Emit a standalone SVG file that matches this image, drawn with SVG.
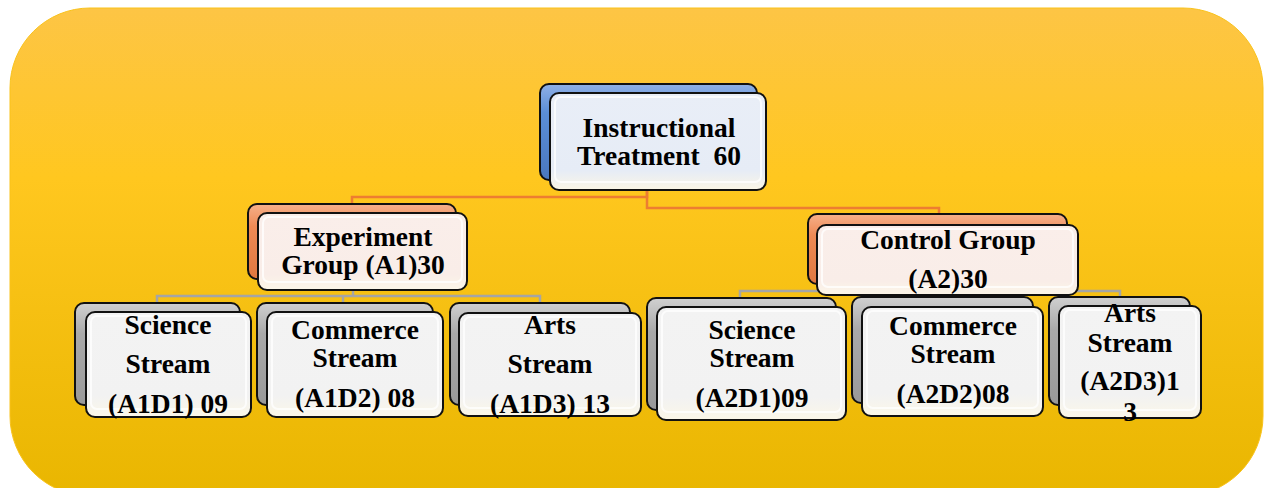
<svg xmlns="http://www.w3.org/2000/svg" width="1266" height="488" viewBox="0 0 1266 488">
<defs>
<linearGradient id="bg" x1="0" y1="0" x2="0" y2="1">
<stop offset="0" stop-color="#FDC545"/>
<stop offset="0.35" stop-color="#FFC71F"/>
<stop offset="1" stop-color="#E9B600"/>
</linearGradient>
<linearGradient id="gBlue" x1="0" y1="0" x2="0" y2="1">
<stop offset="0" stop-color="#8FB0E6"/>
<stop offset="0.3" stop-color="#5B8ED6"/>
<stop offset="1" stop-color="#4A78C0"/>
</linearGradient>
<linearGradient id="gOrange" x1="0" y1="0" x2="0" y2="1">
<stop offset="0" stop-color="#F6B08A"/>
<stop offset="0.3" stop-color="#EE8A55"/>
<stop offset="1" stop-color="#E07840"/>
</linearGradient>
<linearGradient id="gGray" x1="0" y1="0" x2="0" y2="1">
<stop offset="0" stop-color="#D0D0D0"/>
<stop offset="0.3" stop-color="#A9A9A9"/>
<stop offset="1" stop-color="#999999"/>
</linearGradient>
<linearGradient id="fBlue" x1="0" y1="0" x2="0" y2="1">
<stop offset="0" stop-color="#E9EEF7"/>
<stop offset="0.8" stop-color="#E6ECF6"/>
<stop offset="1" stop-color="#FBF6E6"/>
</linearGradient>
<linearGradient id="fOrange" x1="0" y1="0" x2="0" y2="1">
<stop offset="0" stop-color="#FAEEEA"/>
<stop offset="0.8" stop-color="#F9EDE8"/>
<stop offset="1" stop-color="#FCF6E8"/>
</linearGradient>
<linearGradient id="fGray" x1="0" y1="0" x2="0" y2="1">
<stop offset="0" stop-color="#F3F3F3"/>
<stop offset="0.8" stop-color="#F2F2F2"/>
<stop offset="1" stop-color="#FBF7E8"/>
</linearGradient>
</defs>
<style>
.back{stroke:#111;stroke-width:2}
.front{stroke:#111;stroke-width:2}
.gloss{fill:none;stroke:#ffffff;stroke-width:2;stroke-opacity:0.75}
.t{font-family:"Liberation Serif","Times New Roman",serif;font-weight:bold;font-size:27.5px;fill:#000;text-anchor:middle}
.co{fill:none;stroke:#ED7D31;stroke-width:2.5}
.cg{fill:none;stroke:#A5A5A5;stroke-width:2.5}
</style>
<rect x="10" y="8" width="1253" height="488" rx="80" ry="80" fill="url(#bg)" stroke="#F9C21A" stroke-width="1"/>
<g id="connectors">
<path class="co" d="M647,191 V197 H352 V204"/>
<path class="co" d="M647,191 V208 H939 V214"/>
<path class="cg" d="M353,290 V296"/>
<path class="cg" d="M157,303 V296 H540 V303"/>
<path class="cg" d="M343,296 V303"/>
<path class="cg" d="M943,295 V291"/>
<path class="cg" d="M740,298 V291 H1120 V297"/>
</g>
<g id="root">
<rect class="back" x="540" y="84" width="217" height="96" rx="9" fill="url(#gBlue)"/>
<rect class="front" x="550" y="93" width="216" height="97" rx="9" fill="url(#fBlue)"/>
<rect class="gloss" x="555" y="97" width="206" height="85" rx="6"/>
<text class="t" x="659" y="137">Instructional</text>
<text class="t" x="659" y="165" style="white-space:pre">Treatment  60</text>
</g>
<g id="experiment">
<rect class="back" x="248" y="204" width="208" height="75" rx="9" fill="url(#gOrange)"/>
<rect class="front" x="258" y="213" width="209" height="77" rx="9" fill="url(#fOrange)"/>
<rect class="gloss" x="263" y="217" width="199" height="65" rx="6"/>
<text class="t" x="363" y="246">Experiment</text>
<text class="t" x="363" y="274">Group (A1)30</text>
</g>
<g id="control">
<rect class="back" x="808" y="214" width="259" height="70" rx="9" fill="url(#gOrange)"/>
<rect class="front" x="817" y="225" width="261" height="70" rx="9" fill="url(#fOrange)"/>
<rect class="gloss" x="822" y="229" width="251" height="58" rx="6"/>
<text class="t" x="948" y="249">Control Group</text>
<text class="t" x="948" y="288">(A2)30</text>
</g>
<g id="science-a1">
<rect class="back" x="75" y="303" width="165" height="102" rx="9" fill="url(#gGray)"/>
<rect class="front" x="86" y="312" width="165" height="105" rx="9" fill="url(#fGray)"/>
<rect class="gloss" x="91" y="316" width="155" height="93" rx="6"/>
<text class="t" x="168" y="334">Science</text>
<text class="t" x="168" y="373">Stream</text>
<text class="t" x="168" y="413">(A1D1) 09</text>
</g>
<g id="commerce-a1">
<rect class="back" x="257" y="303" width="176" height="102" rx="9" fill="url(#gGray)"/>
<rect class="front" x="267" y="312" width="176" height="105" rx="9" fill="url(#fGray)"/>
<rect class="gloss" x="272" y="316" width="166" height="93" rx="6"/>
<text class="t" x="355" y="339">Commerce</text>
<text class="t" x="355" y="367">Stream</text>
<text class="t" x="355" y="407">(A1D2) 08</text>
</g>
<g id="arts-a1">
<rect class="back" x="450" y="303" width="180" height="102" rx="9" fill="url(#gGray)"/>
<rect class="front" x="459" y="313" width="182" height="103" rx="9" fill="url(#fGray)"/>
<rect class="gloss" x="464" y="317" width="172" height="91" rx="6"/>
<text class="t" x="550" y="334">Arts</text>
<text class="t" x="550" y="373">Stream</text>
<text class="t" x="550" y="413">(A1D3) 13</text>
</g>
<g id="science-a2">
<rect class="back" x="647" y="298" width="189" height="112" rx="9" fill="url(#gGray)"/>
<rect class="front" x="657" y="307" width="189" height="113" rx="9" fill="url(#fGray)"/>
<rect class="gloss" x="662" y="311" width="179" height="101" rx="6"/>
<text class="t" x="752" y="339">Science</text>
<text class="t" x="752" y="367">Stream</text>
<text class="t" x="752" y="407">(A2D1)09</text>
</g>
<g id="commerce-a2">
<rect class="back" x="852" y="297" width="181" height="106" rx="9" fill="url(#gGray)"/>
<rect class="front" x="862" y="307" width="181" height="109" rx="9" fill="url(#fGray)"/>
<rect class="gloss" x="867" y="311" width="171" height="97" rx="6"/>
<text class="t" x="953" y="335">Commerce</text>
<text class="t" x="953" y="363">Stream</text>
<text class="t" x="953" y="403">(A2D2)08</text>
</g>
<g id="arts-a2">
<rect class="back" x="1049" y="297" width="141" height="108" rx="9" fill="url(#gGray)"/>
<rect class="front" x="1059" y="306" width="142" height="112" rx="9" fill="url(#fGray)"/>
<rect class="gloss" x="1064" y="310" width="132" height="100" rx="6"/>
<text class="t" x="1130" y="322">Arts</text>
<text class="t" x="1130" y="352">Stream</text>
<text class="t" x="1130" y="390">(A2D3)1</text>
<text class="t" x="1130" y="421">3</text>
</g>
</svg>
